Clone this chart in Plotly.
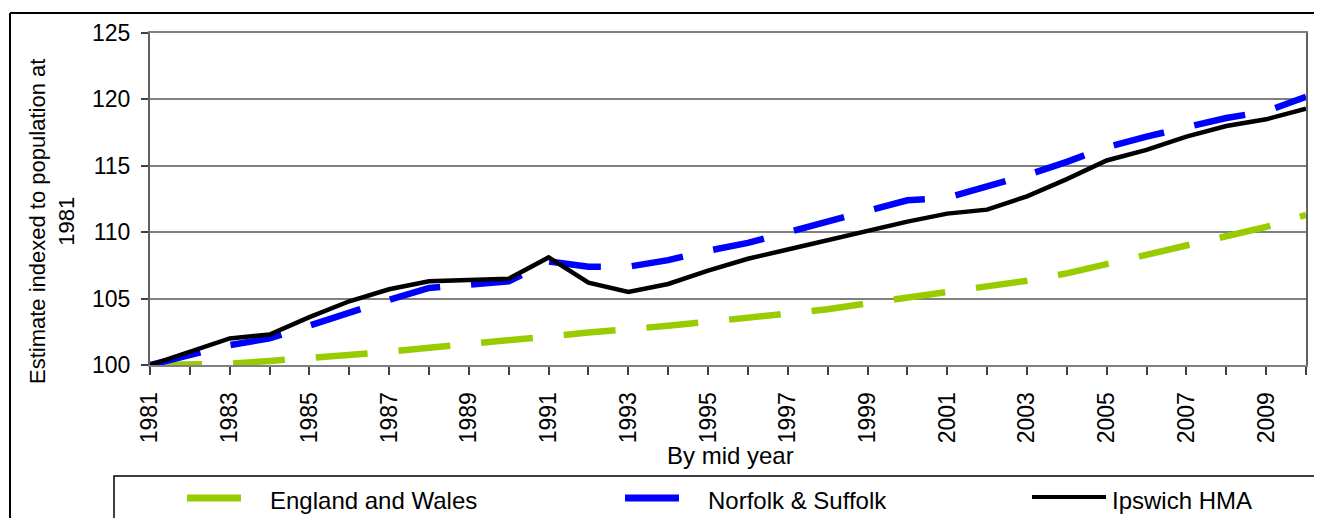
import plotly.graph_objects as go

# ---------------- data ----------------
years = list(range(1981, 2011))
tick_labels = [str(y) if (y - 1981) % 2 == 0 else "" for y in years]

england_wales = [100.0, 100.05, 100.1, 100.3, 100.5, 100.75, 101.0, 101.3, 101.55, 101.8,
                 102.15, 102.45, 102.65, 102.95, 103.25, 103.55, 103.9, 104.2, 104.65, 105.05,
                 105.45, 105.9, 106.35, 106.9, 107.6, 108.25, 108.9, 109.6, 110.4, 111.3]
norfolk_suffolk = [100.0, 100.7, 101.5, 102.0, 103.0, 103.9, 104.9, 105.8, 106.1, 106.3,
                   107.8, 107.4, 107.4, 107.9, 108.6, 109.2, 110.0, 110.8, 111.6, 112.4,
                   112.6, 113.4, 114.3, 115.3, 116.4, 117.2, 117.9, 118.6, 119.1, 120.2]
ipswich_hma = [100.0, 101.0, 102.0, 102.3, 103.6, 104.8, 105.7, 106.3, 106.4, 106.5,
               108.1, 106.2, 105.5, 106.1, 107.1, 108.0, 108.7, 109.4, 110.1, 110.8,
               111.4, 111.7, 112.7, 114.0, 115.4, 116.2, 117.2, 118.0, 118.5, 119.3]

series_names = ["England and Wales", "Norfolk & Suffolk", "Ipswich HMA"]
series_colors = ["#99CC00", "#0000FF", "#000000"]

# ---------------- layout geometry (page has an 8px body margin) ----------------
REF_W, REF_H, OFF = 1322, 518, 8
PLOT_L, PLOT_R, PLOT_T, PLOT_B = 150, 1306, 33, 365
W, H = REF_W - OFF, REF_H - OFF
ML, MT = PLOT_L - OFF, PLOT_T - OFF
MR = REF_W - PLOT_R
MB = REF_H - PLOT_B
PW, PH = PLOT_R - PLOT_L, PLOT_B - PLOT_T


def px(x):
    return (x - PLOT_L) / PW


def py(y):
    return (PLOT_B - y) / PH


FONT = "Liberation Sans, Arial, sans-serif"

fig = go.Figure()
fig.add_trace(go.Scatter(x=years, y=england_wales, mode="lines", name=series_names[0],
                         line=dict(color=series_colors[0], width=6.5, dash="52px,31px"),
                         cliponaxis=False, showlegend=False))
fig.add_trace(go.Scatter(x=years, y=norfolk_suffolk, mode="lines", name=series_names[1],
                         line=dict(color=series_colors[1], width=6.5, dash="52px,31px"),
                         cliponaxis=False, showlegend=False))
fig.add_trace(go.Scatter(x=years, y=ipswich_hma, mode="lines", name=series_names[2],
                         line=dict(color=series_colors[2], width=4.5),
                         cliponaxis=False, showlegend=False))

fig.update_layout(
    width=W, height=H,
    margin=dict(l=ML, r=MR, t=MT, b=MB, pad=0),
    paper_bgcolor="white", plot_bgcolor="white",
    font=dict(family=FONT, size=21, color="black"),
    showlegend=False,
    xaxis=dict(
        range=[1981, 2010], tickmode="array", tickvals=years, ticktext=tick_labels,
        tickangle=-90, ticks="outside", ticklen=8, tickwidth=1.5, tickcolor="#404040",
        showgrid=False, zeroline=False, showline=True, linecolor="#808080", linewidth=2,
        mirror=True, layer="below traces", tickfont=dict(size=23), ticklabelstandoff=8,
    ),
    yaxis=dict(
        range=[100, 125], tickmode="array", tickvals=[100, 105, 110, 115, 120, 125],
        ticks="outside", ticklen=7, tickwidth=1.5, tickcolor="#404040",
        showgrid=True, gridcolor="#808080", gridwidth=1.5, zeroline=False,
        showline=True, linecolor="#606060", linewidth=2, mirror=True,
        layer="below traces", tickfont=dict(size=23), ticklabelstandoff=6,
    ),
)

shapes = []
# outer chart frame (top and left)
shapes.append(dict(type="line", xref="paper", yref="paper", x0=px(10), x1=px(REF_W + 10),
                   y0=py(13), y1=py(13), line=dict(color="black", width=2)))
shapes.append(dict(type="line", xref="paper", yref="paper", x0=px(10), x1=px(10),
                   y0=py(13), y1=py(REF_H + 10), line=dict(color="black", width=2)))
# legend box
shapes.append(dict(type="rect", xref="paper", yref="paper", x0=px(114), x1=px(REF_W + 20),
                   y0=py(476), y1=py(REF_H + 20), line=dict(color="black", width=1.5),
                   fillcolor="rgba(0,0,0,0)"))
# legend swatches
sw = [(187, 241, 498, 7), (625, 679, 498, 7), (1032, 1106, 497, 4)]
for (a, b, yy, w), c in zip(sw, series_colors):
    shapes.append(dict(type="line", xref="paper", yref="paper", x0=px(a), x1=px(b),
                       y0=py(yy), y1=py(yy), line=dict(color=c, width=w)))
fig.update_layout(shapes=shapes)

annotations = []
text_x = [268, 706, 1110]
for name, tx in zip(series_names, text_x):
    annotations.append(dict(text=name, xref="paper", yref="paper", x=px(tx), y=py(500),
                            xanchor="left", yanchor="middle", showarrow=False,
                            font=dict(size=24, family=FONT)))
# axis titles
annotations.append(dict(text="By mid year", xref="paper", yref="paper", x=px(730), y=py(455),
                        xanchor="center", yanchor="middle", showarrow=False,
                        font=dict(size=24, family=FONT)))
annotations.append(dict(text="Estimate indexed to population at<br>1981", xref="paper",
                        yref="paper", x=px(52), y=py(222), xanchor="center", yanchor="middle",
                        textangle=-90, showarrow=False, font=dict(size=22, family=FONT)))
fig.update_layout(annotations=annotations)

fig.write_html("out.html")
